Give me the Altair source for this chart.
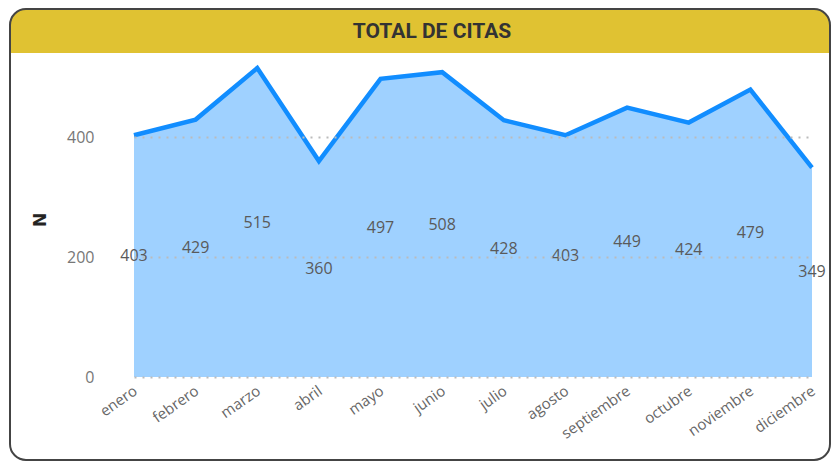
import altair as alt
import pandas as pd

months = ["enero", "febrero", "marzo", "abril", "mayo", "junio", "julio",
          "agosto", "septiembre", "octubre", "noviembre", "diciembre"]
values = [403, 429, 515, 360, 497, 508, 428, 403, 449, 424, 479, 349]
y_ticks = [0, 200, 400]
title_text = "TOTAL DE CITAS"
y_title = "N"

df = pd.DataFrame({"mes": months, "N": values})
one = pd.DataFrame({"k": [0]})

W, H = 718, 315

x_enc = alt.X("mes:N", sort=months,
              scale=alt.Scale(range=[24, 702], padding=0),
              axis=alt.Axis(title=None, labelAngle=-35, labelFontSize=15,
                            labelColor="#666666", labelFont="Open Sans",
                            labelPadding=6, labelOffset=-3, domain=False, ticks=False, grid=False))
y_enc = alt.Y("N:Q", scale=alt.Scale(domain=[0, 525], nice=False),
              axis=alt.Axis(title=y_title, values=y_ticks, labelFontSize=16,
                            labelColor="#777777", labelFont="Open Sans",
                            labelPadding=16, domain=False, ticks=False,
                            grid=True, gridDash=[2, 6], gridColor="#bbbbbb",
                            gridWidth=2, titleFontSize=17, titleFont="DejaVu Sans",
                            titleFontWeight="bold", titleColor="#252423",
                            titlePadding=17, zindex=1))

base = alt.Chart(df)

area = base.mark_area(color="#9FD1FF", opacity=1).encode(x=x_enc, y=y_enc)
line = base.mark_line(color="#118DFF", strokeWidth=4.5, strokeJoin="miter").encode(x=x_enc, y="N:Q")
labels = base.transform_calculate(half="datum.N / 2").mark_text(
    fontSize=16, font="Open Sans", color="#5a5a5a"
).encode(x=x_enc, y=alt.Y("half:Q"), text="N:Q")

header = alt.Chart(one).mark_rect(
    color="#E0C232", cornerRadiusTopLeft=16, cornerRadiusTopRight=16
).encode(x=alt.value(-100), x2=alt.value(720), y=alt.value(-53), y2=alt.value(-9))
frame = alt.Chart(one).mark_rect(
    fill="white", fillOpacity=0, stroke="#444444", strokeWidth=2, cornerRadius=16
).encode(x=alt.value(-100), x2=alt.value(720), y=alt.value(-53), y2=alt.value(398))
title = alt.Chart(one).mark_text(
    text=title_text, font="Roboto", fontSize=21, fontWeight="bold", color="#333333"
).encode(x=alt.value(322), y=alt.value(-30))

chart = alt.layer(header, frame, title, area, line, labels).properties(
    width=W, height=H,
    autosize=alt.AutoSizeParams(type="none"),
    padding={"left": 102, "top": 54, "right": 3, "bottom": 86},
).configure_view(stroke=None)

chart.save("out.html", embed_options={"renderer": "svg", "actions": False})
